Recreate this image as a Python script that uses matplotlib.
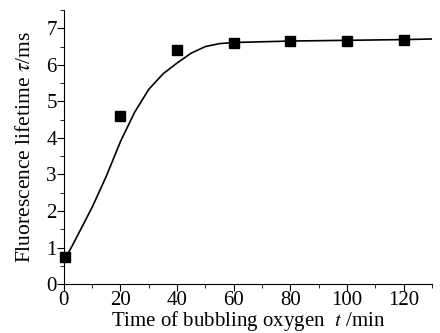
import matplotlib
matplotlib.use('Agg')
import matplotlib.pyplot as plt
from matplotlib.ticker import MultipleLocator

plt.rcParams['font.family'] = ['Liberation Serif', 'DejaVu Serif']
plt.rcParams['mathtext.fontset'] = 'stix'

# measured points
t_data = [0.6, 20, 40, 60, 80, 100, 120]
tau_data = [0.74, 4.6, 6.4, 6.61, 6.65, 6.65, 6.69]

# fitted curve
t_fit = [0.6, 3, 6, 10, 15, 20, 25, 30, 35, 40, 45, 50, 55, 60, 70, 80, 90, 100, 110, 120, 132]
tau_fit = [0.72, 1.05, 1.5, 2.1, 2.95, 3.9, 4.7, 5.33, 5.75, 6.05, 6.32, 6.5, 6.58, 6.61, 6.63, 6.65, 6.66, 6.67, 6.68, 6.69, 6.71]

fig = plt.figure(figsize=(4.4, 3.33), dpi=100)
ax = fig.add_axes([0.145, 0.147, 0.837, 0.823])

ax.plot(t_fit, tau_fit, '-', color='black', lw=1.2)
ax.plot(t_data, tau_data, 's', color='black', ms=7, clip_on=False, zorder=3)

ax.set_xlim(0, 130)
ax.set_ylim(0, 7.5)
ax.xaxis.set_major_locator(MultipleLocator(20))
ax.xaxis.set_minor_locator(MultipleLocator(10))
ax.yaxis.set_major_locator(MultipleLocator(1))
ax.yaxis.set_minor_locator(MultipleLocator(0.5))
ax.spines['top'].set_visible(False)
ax.spines['right'].set_visible(False)
ax.tick_params(which='major', direction='out', length=5, labelsize=15, pad=0)
ax.tick_params(which='minor', direction='out', length=3)

ax.set_xlabel(r'Time of bubbling oxygen  $t$ /min', fontsize=15, va='baseline')
ax.xaxis.set_label_coords(0.5, -0.153)
ax.set_ylabel(r'Fluorescence lifetime $\tau$/ms', fontsize=15.5, labelpad=8)

fig.savefig('out.png', dpi=100)
